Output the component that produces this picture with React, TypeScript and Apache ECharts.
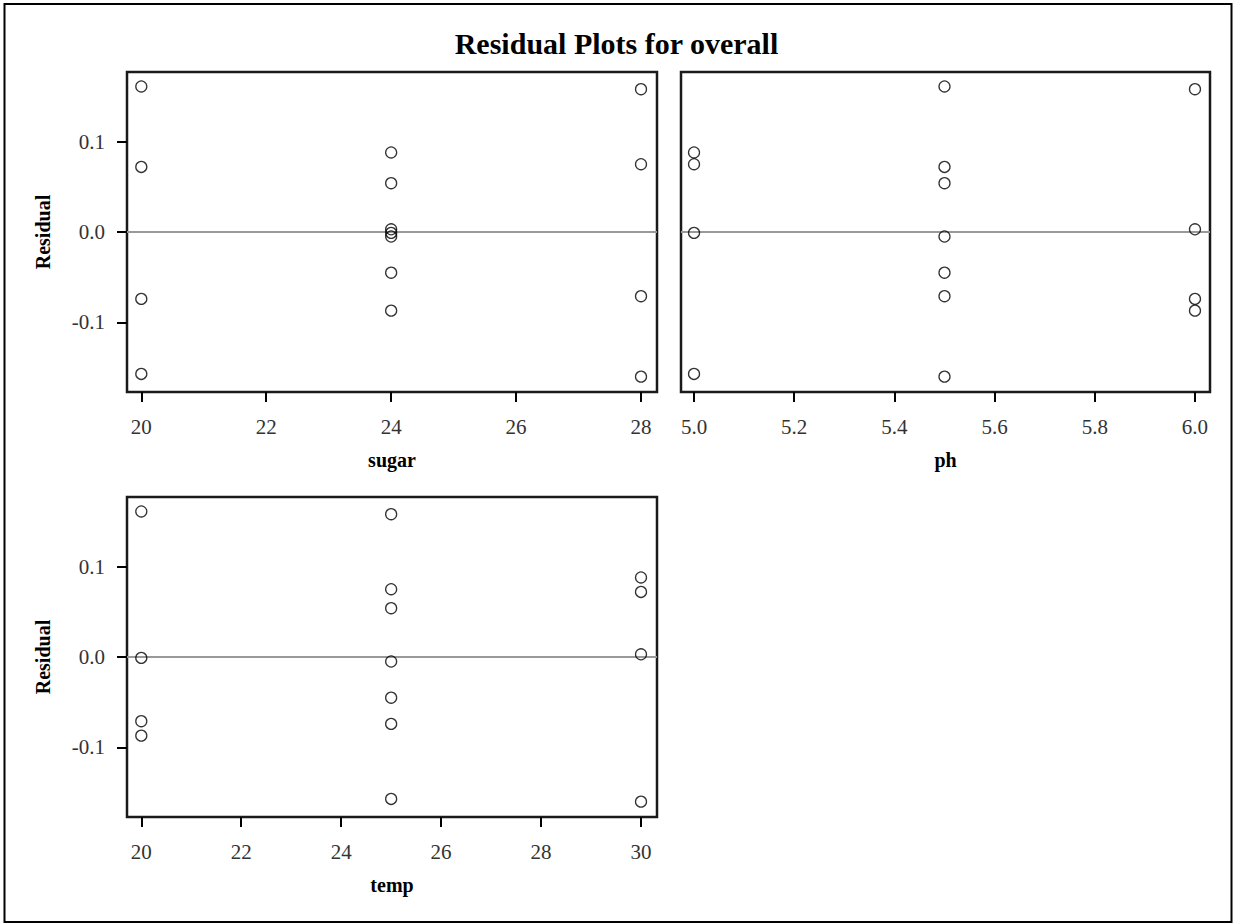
import React, { useEffect, useRef } from "react";
import * as echarts from "echarts";

// Observations (Box-Behnken design): factor levels and residuals
const sugar = [20, 28, 24, 28, 20, 24, 24, 24, 24, 24, 28, 20, 24, 20, 28];
const ph = [5.5, 6.0, 5.0, 5.0, 5.5, 5.5, 6.0, 5.0, 5.5, 5.5, 5.5, 6.0, 6.0, 5.0, 5.5];
const temp = [20, 25, 30, 25, 30, 25, 30, 20, 25, 25, 20, 25, 20, 25, 30];
const residual = [0.161, 0.158, 0.088, 0.075, 0.072, 0.054, 0.003, -0.001, -0.005, -0.045, -0.071, -0.074, -0.087, -0.157, -0.160];

const sugarTicks = [20, 22, 24, 26, 28];
const phTicks = [5.0, 5.2, 5.4, 5.6, 5.8, 6.0];
const tempTicks = [20, 22, 24, 26, 28, 30];
const residTicks = [-0.1, 0, 0.1];

const TITLE = "Residual Plots for overall";

export default function App() {
  const ref = useRef<HTMLDivElement>(null);
  useEffect(() => {
    document.body.style.margin = "0";
    const chart = echarts.init(ref.current!, null, { renderer: "svg" });
    const labelFont = { fontFamily: "Liberation Serif", fontSize: 21, color: "#333" };
    const nameFont = { fontFamily: "Liberation Serif", fontWeight: "bold" as const, fontSize: 20, color: "#000" };
    const tickStyle = { color: "#000", width: 2 };

    const xAxis = (gi: number, name: string, min: number, max: number, ticks: number[], dec: number) => ({
      gridIndex: gi,
      type: "value",
      min,
      max,
      name,
      nameLocation: "middle",
      nameGap: 58,
      nameTextStyle: nameFont,
      axisLine: { show: false, onZero: false },
      axisTick: { show: true, length: 10, lineStyle: tickStyle, customValues: ticks },
      axisLabel: { ...labelFont, margin: 24, customValues: ticks, formatter: (v: number) => v.toFixed(dec) },
      splitLine: { show: false },
    });
    const yAxis = (gi: number, show: boolean) => ({
      gridIndex: gi,
      type: "value",
      min: -0.177,
      max: 0.177,
      name: show ? "Residual" : "",
      nameLocation: "middle",
      nameGap: 74,
      nameTextStyle: nameFont,
      axisLine: { show: false, onZero: false },
      axisTick: { show, length: 10, lineStyle: tickStyle, customValues: residTicks },
      axisLabel: { show, ...labelFont, margin: 22, customValues: residTicks, formatter: (v: number) => v.toFixed(1) },
      splitLine: { show: false },
    });
    const series = (i: number, xs: number[]) => ({
      type: "scatter",
      xAxisIndex: i,
      yAxisIndex: i,
      data: xs.map((x, k) => [x, residual[k]]),
      symbol: "circle",
      symbolSize: 11,
      itemStyle: { color: "rgba(0,0,0,0)", borderColor: "#000", borderWidth: 1.3 },
      markLine: {
        silent: true,
        symbol: ["none", "none"],
        label: { show: false },
        lineStyle: { color: "#999", width: 2, type: "solid" },
        data: [{ yAxis: 0 }],
        z: 1,
      },
      z: 3,
    });

    const gridBase = { show: true, borderColor: "#1a1a1a", borderWidth: 2.5, backgroundColor: "transparent" };
    chart.setOption({
      animation: false,
      backgroundColor: "#fff",
      title: {
        text: TITLE,
        left: "center",
        top: 23,
        textStyle: { fontFamily: "Liberation Serif", fontWeight: "bold", fontSize: 30, color: "#000" },
      },
      grid: [
        { ...gridBase, left: 127, top: 72, width: 530, height: 320 },
        { ...gridBase, left: 681, top: 72, width: 529, height: 320 },
        { ...gridBase, left: 127, top: 497, width: 530, height: 320 },
      ],
      xAxis: [
        xAxis(0, "sugar", 19.771, 28.256, sugarTicks, 0),
        xAxis(1, "ph", 4.974, 6.03, phTicks, 1),
        xAxis(2, "temp", 19.714, 30.32, tempTicks, 0),
      ],
      yAxis: [yAxis(0, true), yAxis(1, false), yAxis(2, true)],
      series: [series(0, sugar), series(1, ph), series(2, temp)],
      graphic: [
        {
          type: "rect",
          shape: { x: 4.5, y: 4, width: 1227, height: 918 },
          style: { fill: "none", stroke: "#000", lineWidth: 2 },
          silent: true,
        },
      ],
    });
    return () => chart.dispose();
  }, []);
  return <div ref={ref} style={{ position: "absolute", left: 0, top: 0, width: 1233, height: 924 }} />;
}
